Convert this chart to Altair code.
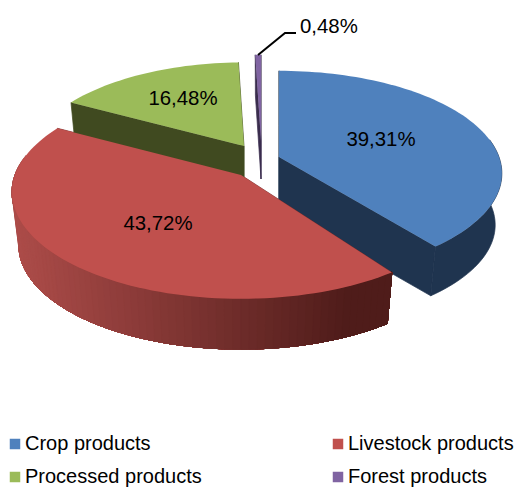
import math
import altair as alt

categories = ["Crop products", "Livestock products", "Processed products", "Forest products"]
values = [39.31, 43.72, 16.48, 0.48]
labels = ["39,31%", "43,72%", "16,48%", "0,48%"]
top_colors = ["#4f81bd", "#c0504d", "#9bbb59", "#8064a2"]
wall_colors = ["#1f344f", "#7a2f2d", "#404a20", "#3a2d4d"]

# Layout of the drawing, in page pixels
CENTERS = [(279, 157), (241, 175), (244, 146), (261, 141)]
A = [220, 226, 213, 222]
B = [100, 104, 97, 100]
P = 0.16
DEPTH = [52, 54, 52, 38]
SHRINK = 0.97
START_NUDGE = [0, 3, 0, 0]
LABEL_POS = [(381, 140), (158, 224), (183, 99), (300, 27)]
LEADER = [(258, 55), (285, 33), (296, 33)]
OFFSET = 8


def project(i, t, lower=False):
    x, y = math.sin(t), math.cos(t)
    w = 1 + P * y
    s = SHRINK if lower else 1
    cx, cy = CENTERS[i]
    return [cx + s * A[i] * x / w - OFFSET,
            cy - s * B[i] * y / w + (DEPTH[i] if lower else 0) - OFFSET]


def mix(hex1, hex2, f):
    a = [int(hex1[k:k + 2], 16) for k in (1, 3, 5)]
    b = [int(hex2[k:k + 2], 16) for k in (1, 3, 5)]
    return "#%02x%02x%02x" % tuple(round(p + (q - p) * f) for p, q in zip(a, b))


def feature(coords, **props):
    return {"type": "Feature", "properties": props,
            "geometry": {"type": "Polygon", "coordinates": [coords + [coords[0]]]}}


walls, tops = [], []
total = sum(values)
start = 0.0
for i, v in enumerate(values):
    sweep = v / total * 2 * math.pi
    first = start + math.radians(START_NUDGE[i])
    last = start + sweep
    n = max(3, int(v * 2))
    ts = [first + (last - first) * k / n for k in range(n + 1)]
    cx, cy = CENTERS[i]
    c_top = [cx - OFFSET, cy - OFFSET]
    c_low = [cx - OFFSET, cy - OFFSET + DEPTH[i]]
    # radial walls
    for t in (ts[0], ts[-1]):
        walls.append(feature([c_top, project(i, t), project(i, t, True), c_low], fill=wall_colors[i]))
    # outer wall: only the part that faces the viewer
    front = [t for t in ts if math.cos(t) < 0.2]
    if front:
        if i == 1:
            # each band runs to the far left and the next one overpaints it, so no seams show
            for k in range(len(front) - 1):
                sub = front[:len(front) - k]
                x_end = project(i, sub[-1])[0] + OFFSET
                f = min(1, max(0, (x_end - 15) / 330))
                col = mix("#ac4c49", "#4f1c1a", f)
                poly = [project(i, t) for t in sub] + [project(i, t, True) for t in reversed(sub)]
                walls.append(feature(poly, fill=col))
        else:
            poly = [project(i, t) for t in front] + [project(i, t, True) for t in reversed(front)]
            walls.append(feature(poly, fill=wall_colors[i]))
    tops.append(feature([c_top] + [project(i, t) for t in ts], category=categories[i]))
    start += sweep

proj = dict(type="identity", scale=1, translate=[0, 0])

wall_layer = alt.Chart(alt.Data(values=walls)).mark_geoshape(strokeWidth=0.7).encode(
    fill=alt.Fill("properties.fill:N", scale=None),
    stroke=alt.Stroke("properties.fill:N", scale=None),
).project(**proj)

top_layer = alt.Chart(alt.Data(values=tops)).mark_geoshape(strokeWidth=0).encode(
    fill=alt.Fill(
        "properties.category:N",
        scale=alt.Scale(domain=categories, range=top_colors),
        legend=alt.Legend(
            title=None, orient="none", legendX=-3, legendY=426, columns=2, direction="horizontal",
            symbolType="square", symbolSize=110, symbolStrokeWidth=0,
            labelFont="Liberation Sans", labelFontSize=20, labelColor="#000000",
            labelOffset=0, rowPadding=13, columnPadding=126, labelLimit=300,
        ),
    ),
).project(**proj)

leader = alt.Chart(alt.Data(values=[{
    "type": "Feature", "properties": {},
    "geometry": {"type": "LineString", "coordinates": [[x - OFFSET, y - OFFSET] for x, y in LEADER]},
}])).mark_geoshape(filled=False, stroke="#000000", strokeWidth=2).project(**proj)

label_rows = [
    {"label": l, "lon": x - OFFSET, "lat": y - OFFSET}
    for l, (x, y) in zip(labels, LABEL_POS)
]
center_labels = alt.Chart(alt.Data(values=label_rows[:3])).mark_text(
    font="Liberation Sans", fontSize=20.4, color="#000000", align="center", baseline="middle"
).encode(longitude="lon:Q", latitude="lat:Q", text="label:N").project(**proj)
outer_label = alt.Chart(alt.Data(values=label_rows[3:])).mark_text(
    font="Liberation Sans", fontSize=20.4, color="#000000", align="left", baseline="middle"
).encode(longitude="lon:Q", latitude="lat:Q", text="label:N").project(**proj)

chart = alt.layer(wall_layer, top_layer, leader, center_labels, outer_label).properties(
    width=507, height=479, padding=0, autosize=alt.AutoSizeParams(type="none"),
    background="#ffffff",
).configure_view(stroke=None)

chart.save("out.html", embed_options={"renderer": "svg", "actions": False})
